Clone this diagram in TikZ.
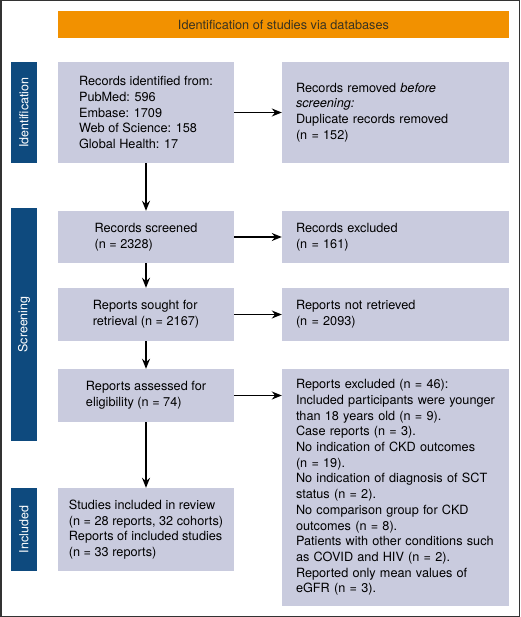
\documentclass[tikz,border=0pt]{standalone}
\usepackage{fontspec}
\setmainfont{TeX Gyre Heros}
\usetikzlibrary{
  arrows.meta
}
\definecolor{boxfill}{HTML}{C9CBDE}
\definecolor{phaseblue}{HTML}{0E4A7E}
\definecolor{headorange}{HTML}{F29100}
\definecolor{headtext}{HTML}{3A3320}

\begin{document}
\begin{tikzpicture}[x=1pt,y=-1pt]
  \tikzset{
    box/.style = {
      fill=boxfill, inner sep=0pt, font=\fontsize{12.7}{15.7}\selectfont
    },
    leftbox/.style = {box, minimum width=176pt, align=left},
    rightbox/.style = {box, text width=199pt, inner xsep=14pt, align=left},
    phase/.style = {
      fill=phaseblue, text=white, rotate=90, minimum height=26pt,
      inner sep=0pt, font=\fontsize{12.5}{14}\selectfont
    },
    flow/.style = {line width=1.4pt, -{Stealth[length=10pt,width=8pt]}},
  }
  \useasboundingbox (0,0) rectangle (520,617);
  \draw[line width=1.5pt, black!80] (0.75,0.75) rectangle (519.25,616.25);

  % header bar
  \node[fill=headorange, text=headtext, minimum width=451pt, minimum height=27pt,
    inner sep=0pt, font=\fontsize{12.7}{14}\selectfont] (header) at (283.5,24.5)
    {Identification of studies via databases};

  % phase labels on the left
  \node[phase, minimum width=101pt] (phaseid) at (24,112.5) {Identification};
  \node[phase, minimum width=233pt] (phasescr) at (24,324.5) {Screening};
  \node[phase, minimum width=83pt] (phaseinc) at (24,529.5) {Included};

  % main column
  \node[leftbox, minimum height=101pt] (ident) at (146,112.5)
    {Records identified from:\\PubMed: 596\\Embase: 1709\\Web of Science: 158\\Global Health: 17};
  \node[leftbox, minimum height=52pt] (screened) at (146,237)
    {Records screened\\(n = 2328)};
  \node[leftbox, minimum height=53pt] (sought) at (146,314.5)
    {Reports sought for\\retrieval (n = 2167)};
  \node[leftbox, minimum height=53pt] (assessed) at (146,395.5)
    {Reports assessed for\\eligibility (n = 74)};
  \node[leftbox, minimum height=83pt] (incl) at (146,529.5)
    {Studies included in review\\(n = 28 reports, 32 cohorts)\\Reports of included studies\\(n = 33 reports)};

  % side column
  \node[rightbox, minimum height=101pt] (dup) at (395.5,112.5)
    {Records removed \textit{before}\\\textit{screening:}\\Duplicate records removed\\(n = 152)};
  \node[rightbox, minimum height=52pt] (excl) at (395.5,237)
    {Records excluded\\(n = 161)};
  \node[rightbox, minimum height=53pt] (notret) at (395.5,314.5)
    {Reports not retrieved\\(n = 2093)};
  \node[rightbox, minimum height=237pt] (rexcl) at (395.5,487.5)
    {Reports excluded (n = 46):\\Included participants were younger\\than 18 years old (n = 9).\\Case reports (n = 3).\\No indication of CKD outcomes\\(n = 19).\\No indication of diagnosis of SCT\\status (n = 2).\\No comparison group for CKD\\outcomes (n = 8).\\Patients with other conditions such\\as COVID and HIV (n = 2).\\Reported only mean values of\\eGFR (n = 3).};

  % arrows down
  \draw[flow] (ident) -- (screened);
  \draw[flow] (screened) -- (sought);
  \draw[flow] (sought) -- (assessed);
  \draw[flow] (assessed) -- (incl);
  % arrows to the side
  \draw[flow] (ident) -- (dup);
  \draw[flow] (screened) -- (excl);
  \draw[flow] (sought) -- (notret);
  \draw[flow] (assessed.east) -- (assessed.east -| rexcl.west);
\end{tikzpicture}
\end{document}
